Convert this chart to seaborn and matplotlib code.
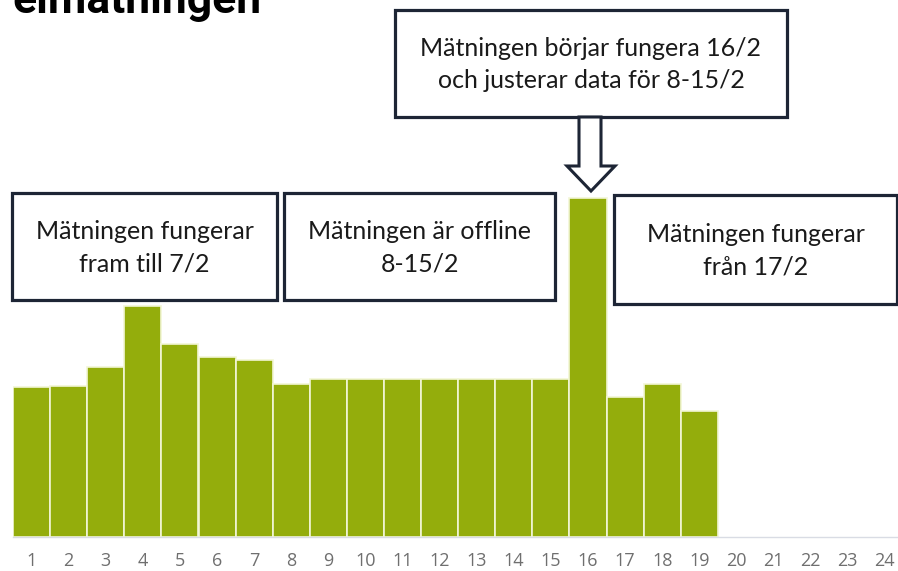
import matplotlib.pyplot as plt
import numpy as np
import pandas as pd
import seaborn as sns
from matplotlib.patches import Rectangle, Polygon

# values (relative bar heights, no y scale shown)
days = [str(d) for d in range(1, 25)]
measured_days = [str(d) for d in range(1, 20)]
consumption = [150, 151, 170, 231, 193, 180, 177, 153, 158, 158,
               158, 158, 158, 158, 158, 339, 140, 153, 126]

title = "elmätningen"
notes = [
    ("Mätningen fungerar\nfram till 7/2", (12, 193, 277, 300)),
    ("Mätningen är offline\n8-15/2", (284, 193, 555, 300)),
    ("Mätningen fungerar\nfrån 17/2", (614, 195, 897, 304)),
    ("Mätningen börjar fungera 16/2\noch justerar data för 8-15/2", (395, 10, 787, 117)),
]

W, H = 898, 571
GREEN = "#94ad0c"
NAVY = "#1d2535"

df = pd.DataFrame({"dag": measured_days, "varde": consumption})

sns.set_style("white")
fig = plt.figure(figsize=(W / 100, H / 100), dpi=100)


def fx(x):
    return x / W


def fy(y):
    return 1 - y / H


ax = fig.add_axes([fx(13), 34 / H, 890.4 / W, 537 / H])
sns.barplot(data=df, x="dag", y="varde", order=days, color=GREEN,
            width=1.0, edgecolor="#f2f6d6", linewidth=1.2, saturation=1, ax=ax)
ax.set_xlim(-0.5, 23.5)
ax.set_ylim(0, 537)
ax.set_xlabel("")
ax.set_ylabel("")
ax.set_yticks([])
for s in ["top", "left", "right"]:
    ax.spines[s].set_visible(False)
ax.spines["bottom"].set_color("#d9dce4")
ax.spines["bottom"].set_linewidth(1)

ax.set_xticks(np.arange(24))
ax.set_xticklabels(days, fontsize=13, color="#6f6f6f", family=["Open Sans", "DejaVu Sans"])
ax.tick_params(axis="x", which="major", length=0, pad=11)
ax.set_xticks(np.arange(-0.5, 24, 1), minor=True)
ax.tick_params(axis="x", which="minor", length=12.5, width=1, color="#c2c6d6")

# annotation boxes
for text, (x0, y0, x1, y1) in notes:
    fig.add_artist(Rectangle((fx(x0), fy(y1)), fx(x1) - fx(x0), fy(y0) - fy(y1),
                             transform=fig.transFigure, facecolor="white",
                             edgecolor=NAVY, linewidth=2.3, zorder=5))
    fig.text(fx((x0 + x1) / 2), fy((y0 + y1) / 2 + 1), text, ha="center", va="center",
             fontsize=18, color="#1a1a1a", linespacing=1.5,
             family=["Lato", "DejaVu Sans"], zorder=6)

# hollow arrow pointing at day 16
arrow_px = [(579, 117), (601, 117), (601, 166), (615, 166), (591, 191),
            (567, 166), (579, 166)]
fig.add_artist(Polygon([(fx(x), fy(y)) for x, y in arrow_px], closed=True,
                       transform=fig.transFigure, facecolor="white",
                       edgecolor=NAVY, linewidth=2.2, zorder=5))

fig.text(fx(12), fy(13), title, ha="left", va="baseline", fontsize=32,
         fontweight="bold", color="black", family=["Roboto", "DejaVu Sans"])

plt.savefig("out.png", dpi=100)
